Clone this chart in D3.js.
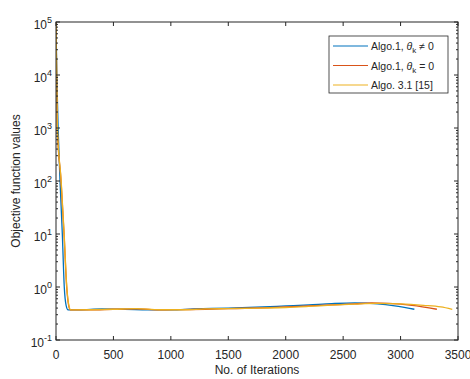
<!DOCTYPE html>
<html>
<head>
<meta charset="utf-8">
<script src="https://cdn.jsdelivr.net/npm/d3@7"></script>
<style>
  body { margin: 0; background: #fff; }
  text { font-family: "Liberation Sans", Arial, sans-serif; fill: #262626; }
</style>
</head>
<body>
<script>
// series: [iteration, objective value]
var algoNonZero = [[0, 90000], [8, 8000], [20, 800], [35, 100], [55, 10], [72, 1], [88, 0.45], [105, 0.37],
  [200, 0.37], [400, 0.385], [600, 0.38], [800, 0.372], [1000, 0.37], [1200, 0.385], [1500, 0.40],
  [1800, 0.42], [2000, 0.44], [2200, 0.46], [2400, 0.485], [2600, 0.50], [2800, 0.48], [2950, 0.44], [3120, 0.38]];
var algoZero = [[0, 100000], [11, 1000], [44, 100], [70, 10], [93, 1], [110, 0.45], [125, 0.37],
  [300, 0.37], [500, 0.38], [700, 0.385], [900, 0.37], [1100, 0.375], [1300, 0.38], [1500, 0.39],
  [1800, 0.405], [2000, 0.42], [2200, 0.44], [2400, 0.46], [2600, 0.48], [2750, 0.50], [2900, 0.49],
  [3100, 0.45], [3316, 0.38]];
var algo31 = [[0, 100000], [12, 1000], [45, 100], [71, 10], [94, 1], [112, 0.45], [128, 0.37],
  [300, 0.372], [500, 0.38], [700, 0.39], [900, 0.372], [1100, 0.372], [1300, 0.385], [1500, 0.39],
  [1800, 0.40], [2000, 0.41], [2200, 0.43], [2400, 0.455], [2600, 0.475], [2800, 0.49], [3000, 0.48],
  [3200, 0.45], [3350, 0.42], [3450, 0.38]];
var seriesNames = ["Algo.1, θ_k ≠ 0", "Algo.1, θ_k = 0", "Algo. 3.1 [15]"];
var colors = ["#0072BD", "#D95319", "#EDB120"];
var xTicks = [0, 500, 1000, 1500, 2000, 2500, 3000, 3500];
var yExps = [-1, 0, 1, 2, 3, 4, 5];

var W = 470, H = 379;
var m = {left: 56, right: 12, top: 22, bottom: 39};
var svg = d3.select("body").append("svg").attr("width", W).attr("height", H);

var x = d3.scaleLinear().domain([0, 3500]).range([m.left, W - m.right]);
var y = d3.scaleLog().domain([0.1, 1e5]).range([H - m.bottom, m.top]);

var clip = svg.append("clipPath").attr("id", "c").append("rect")
  .attr("x", m.left).attr("y", m.top).attr("width", W - m.right - m.left).attr("height", H - m.bottom - m.top);

var line = d3.line().x(function(d){ return x(d[0]); }).y(function(d){ return y(d[1]); }).curve(d3.curveMonotoneX);
var all = [algoNonZero, algoZero, algo31];
svg.append("g").attr("clip-path", "url(#c)").selectAll("path").data(all).enter().append("path")
  .attr("d", line).attr("fill", "none")
  .attr("stroke", function(d, i){ return colors[i]; })
  .attr("stroke-width", 1.3);

// minor ticks
var minor = [];
for (var e = -1; e < 5; e++) for (var k = 2; k <= 9; k++) minor.push(k * Math.pow(10, e));

var axCol = "#262626";
var g = svg.append("g");
// box
g.append("rect").attr("x", x(0)).attr("y", y(1e5)).attr("width", x(3500) - x(0)).attr("height", y(0.1) - y(1e5))
  .attr("fill", "none").attr("stroke", axCol).attr("stroke-width", 1);

// x ticks (bottom & top, inward)
xTicks.forEach(function(t){
  g.append("line").attr("x1", x(t)).attr("x2", x(t)).attr("y1", y(0.1)).attr("y2", y(0.1) - 4).attr("stroke", axCol);
  g.append("line").attr("x1", x(t)).attr("x2", x(t)).attr("y1", y(1e5)).attr("y2", y(1e5) + 4).attr("stroke", axCol);
  g.append("text").attr("x", x(t)).attr("y", y(0.1) + 19).attr("text-anchor", "middle")
    .attr("font-size", 12).text(t);
});
// y ticks
yExps.forEach(function(p){
  var v = Math.pow(10, p);
  g.append("line").attr("x1", x(0)).attr("x2", x(0) + 4).attr("y1", y(v)).attr("y2", y(v)).attr("stroke", axCol);
  g.append("line").attr("x1", x(3500)).attr("x2", x(3500) - 4).attr("y1", y(v)).attr("y2", y(v)).attr("stroke", axCol);
  var t = g.append("text").attr("x", x(0) - 4).attr("y", y(v) + 6.5).attr("text-anchor", "end").attr("font-size", 12);
  t.append("tspan").text("10");
  t.append("tspan").attr("dy", -6).attr("font-size", 9).text(p);
});
minor.forEach(function(v){
  g.append("line").attr("x1", x(0)).attr("x2", x(0) + 2).attr("y1", y(v)).attr("y2", y(v)).attr("stroke", axCol);
  g.append("line").attr("x1", x(3500)).attr("x2", x(3500) - 2).attr("y1", y(v)).attr("y2", y(v)).attr("stroke", axCol);
});

// axis labels
svg.append("text").attr("x", (x(0) + x(3500)) / 2).attr("y", H - 5).attr("text-anchor", "middle")
  .attr("font-size", 12).text("No. of Iterations");
svg.append("text").attr("transform", "translate(20," + ((y(0.1) + y(1e5)) / 2) + ") rotate(-90)")
  .attr("text-anchor", "middle").attr("font-size", 12).text("Objective function values");

// legend
var lg = svg.append("g");
lg.append("rect").attr("x", 329).attr("y", 36).attr("width", 119).attr("height", 57)
  .attr("fill", "#fff").attr("stroke", axCol).attr("stroke-width", 0.8);
seriesNames.forEach(function(n, i){
  var ly = 46 + i * 19.5;
  lg.append("line").attr("x1", 333).attr("x2", 368).attr("y1", ly).attr("y2", ly)
    .attr("stroke", colors[i]).attr("stroke-width", 1.2);
  var t = lg.append("text").attr("x", 371).attr("y", ly + 4).attr("font-size", 10.5);
  var parts = n.split("θ_k");
  t.append("tspan").text(parts[0]);
  if (parts.length > 1) {
    t.append("tspan").attr("font-style", "italic").text("θ");
    t.append("tspan").attr("dy", 3).attr("font-size", 8).text("k");
    t.append("tspan").attr("dy", -3).text(parts[1]);
  }
});
</script>
</body>
</html>
